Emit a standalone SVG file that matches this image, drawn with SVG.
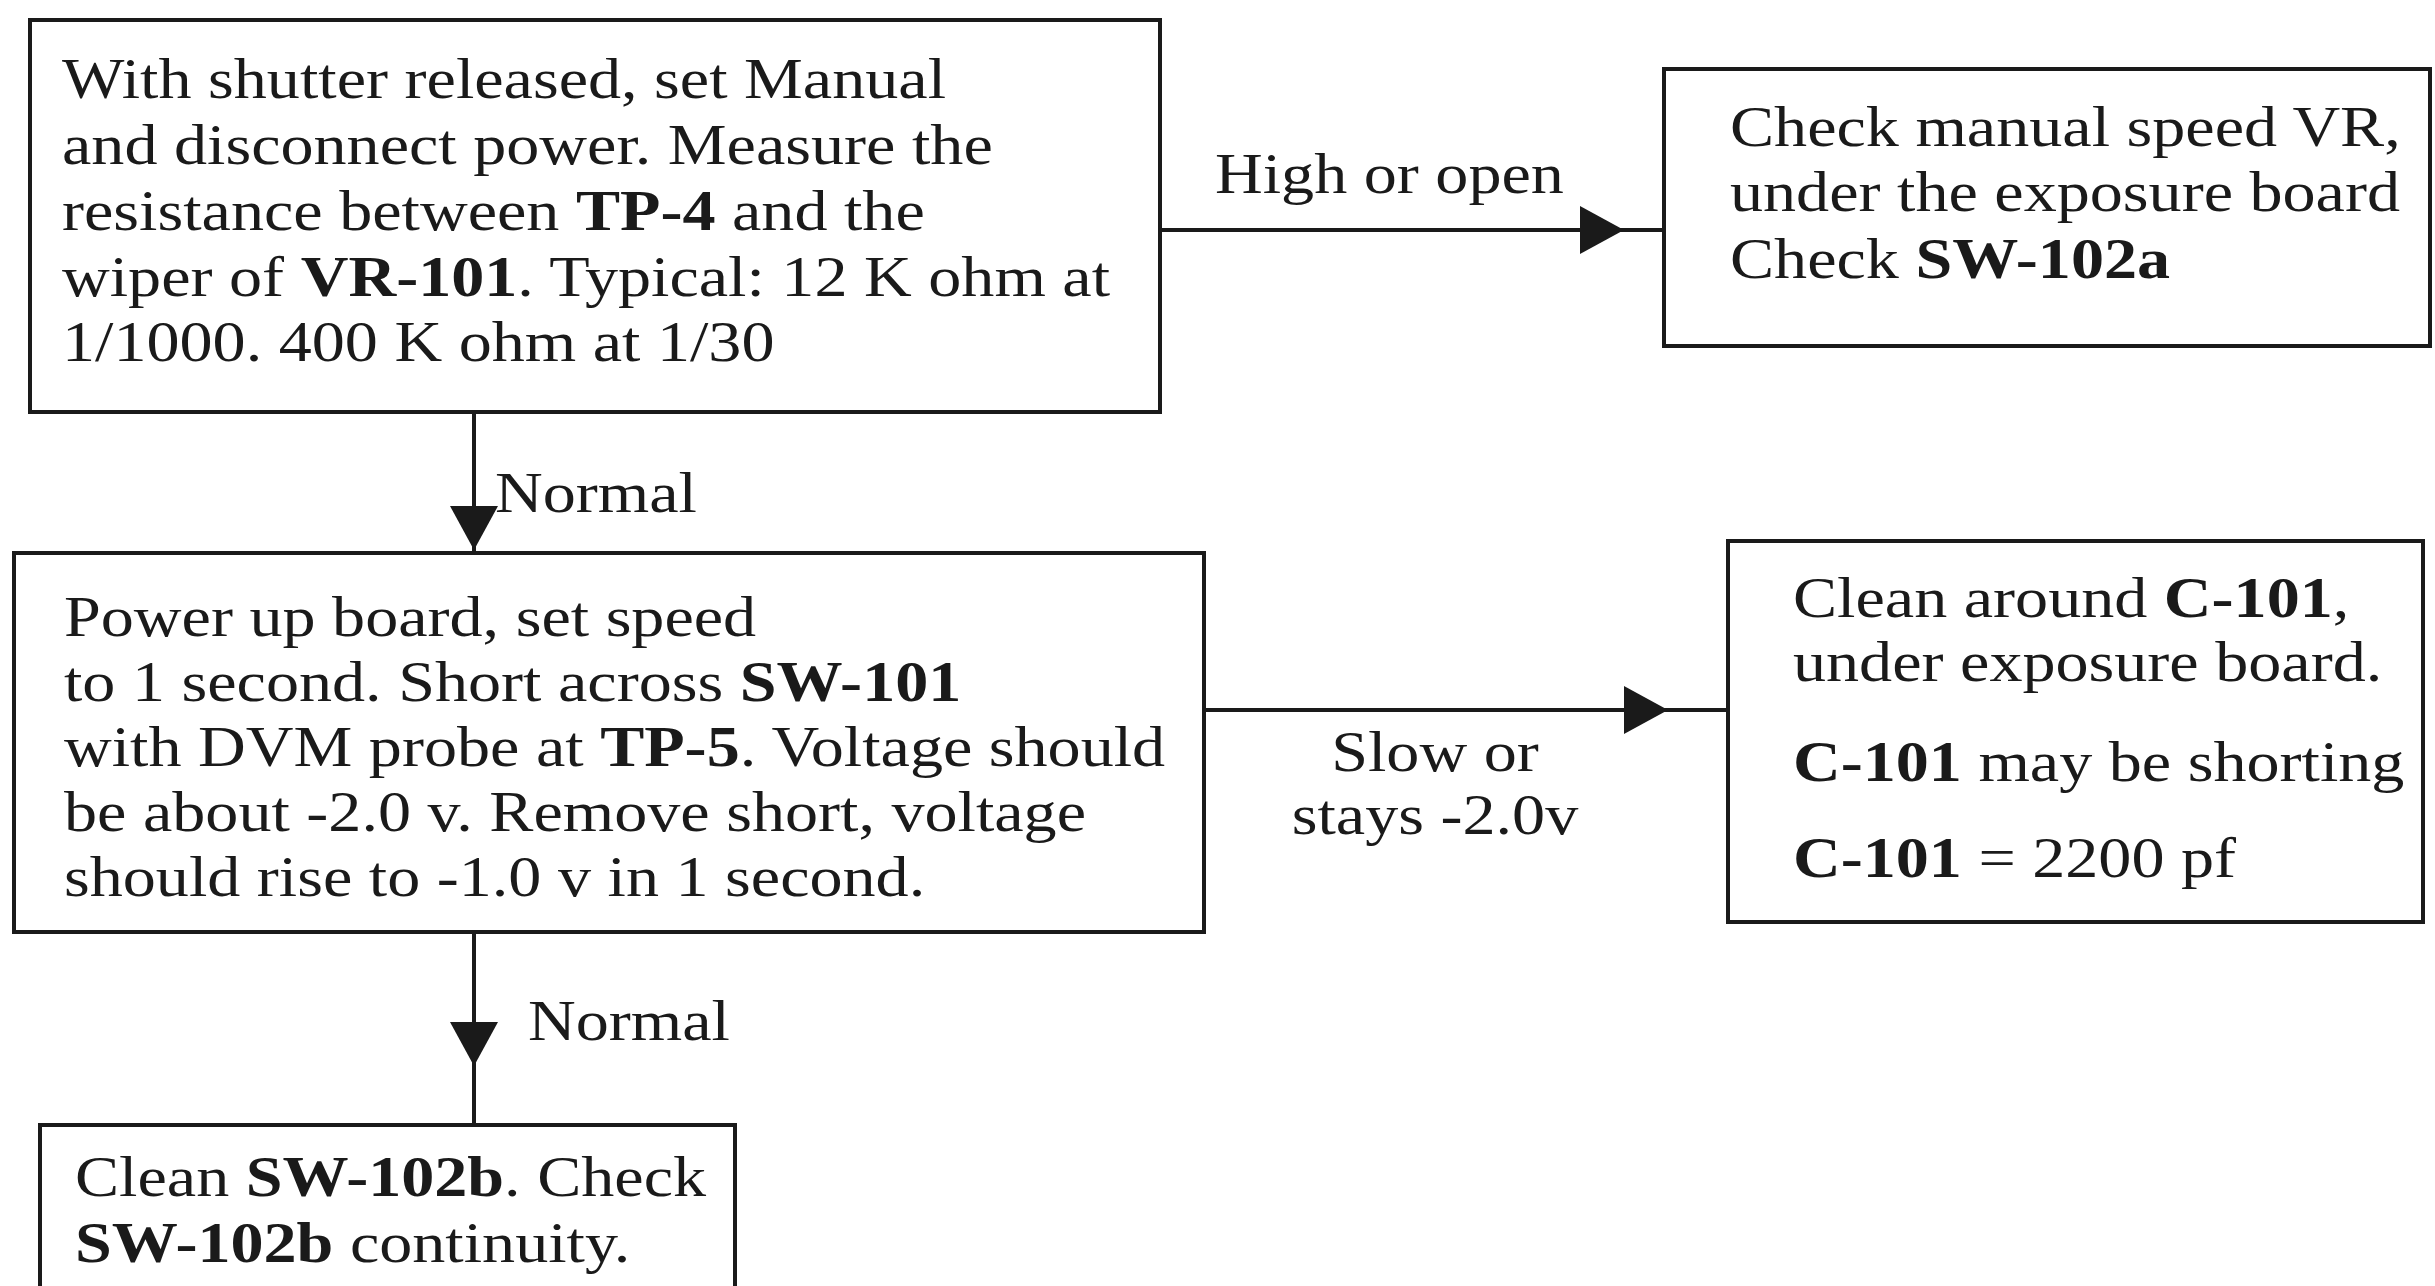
<svg xmlns="http://www.w3.org/2000/svg" width="2435" height="1286" viewBox="0 0 2435 1286">
<style>
.box{fill:#fff;stroke:#1a1a1a;stroke-width:4}
.ln{stroke:#1a1a1a;stroke-width:4;fill:none}
.ah{fill:#1a1a1a}
text{font-family:"Liberation Serif","Times New Roman",serif;font-size:57px;fill:#1a1a1a}
.b{font-weight:bold}
</style>
<defs>
<path id="ah" d="M0,0 L-44,-24 L-44,24 Z"/>
</defs>
<rect width="2435" height="1286" fill="#fff"/>
<g id="connectors">
<line class="ln" x1="1160" y1="230" x2="1664" y2="230"/>
<use href="#ah" class="ah" transform="translate(1624,230)"/>
<line class="ln" x1="1204" y1="710" x2="1728" y2="710"/>
<use href="#ah" class="ah" transform="translate(1668,710)"/>
<line class="ln" x1="474" y1="412" x2="474" y2="553"/>
<use href="#ah" class="ah" transform="translate(474,550) rotate(90)"/>
<line class="ln" x1="474" y1="932" x2="474" y2="1125"/>
<use href="#ah" class="ah" transform="translate(474,1066) rotate(90)"/>
<g transform="translate(1215,0) scale(1.16,1)"><text x="0" y="193">High or open</text></g>
<g transform="translate(495,0) scale(1.16,1)"><text x="0" y="512">Normal</text></g>
<g transform="translate(528,0) scale(1.16,1)"><text x="0" y="1040">Normal</text></g>
<g transform="translate(1435,0) scale(1.16,1)"><text x="0" y="771" text-anchor="middle">Slow or</text><text x="0" y="834" text-anchor="middle">stays -2.0v</text></g>
</g>
<g id="node1">
<rect class="box" x="30" y="20" width="1130" height="392"/>
<g transform="translate(62,0) scale(1.16,1)">
<text x="0" y="98">With shutter released, set Manual</text>
<text x="0" y="164">and disconnect power. Measure the</text>
<text x="0" y="230">resistance between <tspan class="b">TP-4</tspan> and the</text>
<text x="0" y="296">wiper of <tspan class="b">VR-101</tspan>. Typical: 12 K ohm at</text>
<text x="0" y="361">1/1000. 400 K ohm at 1/30</text>
</g>
</g>
<g id="node2">
<rect class="box" x="1664" y="69" width="766" height="277"/>
<g transform="translate(1730,0) scale(1.16,1)">
<text x="0" y="146">Check manual speed VR,</text>
<text x="0" y="211">under the exposure board</text>
<text x="0" y="278">Check <tspan class="b">SW-102a</tspan></text>
</g>
</g>
<g id="node3">
<rect class="box" x="14" y="553" width="1190" height="379"/>
<g transform="translate(64,0) scale(1.16,1)">
<text x="0" y="636">Power up board, set speed</text>
<text x="0" y="701">to 1 second. Short across <tspan class="b">SW-101</tspan></text>
<text x="0" y="766">with DVM probe at <tspan class="b">TP-5</tspan>. Voltage should</text>
<text x="0" y="831">be about -2.0 v. Remove short, voltage</text>
<text x="0" y="896">should rise to -1.0 v in 1 second.</text>
</g>
</g>
<g id="node4">
<rect class="box" x="1728" y="541" width="695" height="381"/>
<g transform="translate(1793,0) scale(1.16,1)">
<text x="0" y="617">Clean around <tspan class="b">C-101</tspan>,</text>
<text x="0" y="681">under exposure board.</text>
<text x="0" y="781"><tspan class="b">C-101</tspan> may be shorting</text>
<text x="0" y="877"><tspan class="b">C-101</tspan> = 2200 pf</text>
</g>
</g>
<g id="node5">
<rect class="box" x="40" y="1125" width="695" height="200"/>
<g transform="translate(75,0) scale(1.16,1)">
<text x="0" y="1196">Clean <tspan class="b">SW-102b</tspan>. Check</text>
<text x="0" y="1262"><tspan class="b">SW-102b</tspan> continuity.</text>
</g>
</g>
</svg>
